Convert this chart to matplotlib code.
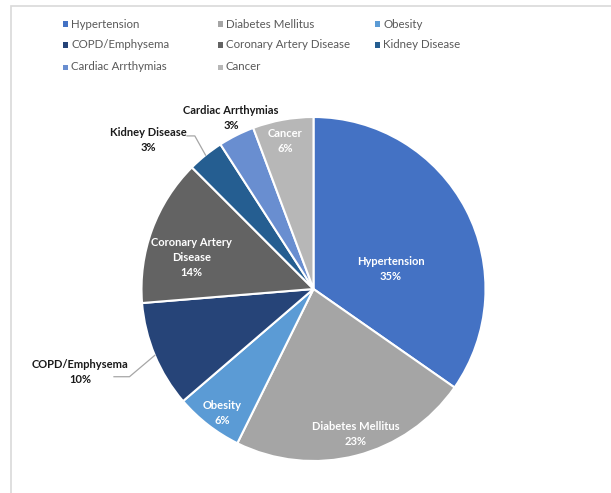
import matplotlib
matplotlib.use("Agg")
import matplotlib.pyplot as plt
from matplotlib.patches import Rectangle
import numpy as np

categories = ["Hypertension", "Diabetes Mellitus", "Obesity", "COPD/Emphysema",
              "Coronary Artery Disease", "Kidney Disease", "Cardiac Arrthymias", "Cancer"]
values = [34.7, 22.6, 6.4, 10.0, 13.8, 3.4, 3.4, 5.7]
colors = ["#4472C4", "#A5A5A5", "#5B9BD5", "#264478", "#636363", "#255E91", "#698ED0", "#B7B7B7"]
label_text = ["Hypertension", "Diabetes Mellitus", "Obesity", "COPD/Emphysema",
              "Coronary Artery\nDisease", "Kidney Disease", "Cardiac Arrthymias", "Cancer"]

# label placement (data coords of pie, radius 1) and whether inside
label_pos = [(0.45, 0.117), (0.246, -0.842), (-0.532, -0.719), (-1.357, -0.485),
             (-0.708, 0.181), (-0.959, 0.865), (-0.48, 0.994), (-0.164, 0.860)]
inside = [True, True, True, False, True, False, False, True]

W, H = 611, 493
fig = plt.figure(figsize=(W / 100, H / 100), dpi=100)
plt.rcParams['font.family'] = ['Lato', 'DejaVu Sans']

# chart border
fig.patches.append(Rectangle((11 / W, -0.1), 1.2, (H - 6) / H + 0.1, transform=fig.transFigure,
                             fill=False, edgecolor="#D9D9D9", linewidth=1.2))

cx, cy, R = 313.5, H - 289, 172
ax = fig.add_axes([(cx - R) / W, (cy - R) / H, 2 * R / W, 2 * R / H])

wedges, _ = ax.pie(values, colors=colors, startangle=90, counterclock=False, radius=1,
                   wedgeprops=dict(edgecolor="white", linewidth=1.5))
ax.set_xlim(-1, 1)
ax.set_ylim(-1, 1)
ax.set_aspect("auto")
ax.axis("off")

total = sum(values)
cum = 0
for i, v in enumerate(values):
    pct = f"{round(v / total * 100):.0f}%"
    mid = (cum + v / 2) / total * 360
    cum += v
    x, y = label_pos[i]
    col = "white" if inside[i] else "#1A1A1A"
    ax.text(x, y, f"{label_text[i]}\n{pct}", ha="center", va="center", fontsize=8,
            fontweight="bold", color=col, linespacing=1.45)
    if not inside[i] and i in (3, 5):
        ang = np.deg2rad(90 - mid)
        ex, ey = np.cos(ang), np.sin(ang)
        if i == 3:
            sx, sy = -1.16, -0.510
            kx = -1.07
        else:
            sx, sy = -0.735, 0.89
            kx = -0.69
        ax.plot([sx, kx, ex], [sy, sy, ey], color="#A6A6A6", linewidth=0.9, clip_on=False)

# legend (row-major, 3 columns)
col_x = [63, 218, 375]
row_y = [24, 45, 67]
for i, (name, c) in enumerate(zip(categories, colors)):
    r, k = divmod(i, 3)
    mx, my = col_x[k], row_y[r]
    fig.patches.append(Rectangle((mx / W, (H - my - 2.5) / H), 5 / W, 5 / H,
                                 transform=fig.transFigure, facecolor=c, edgecolor="none"))
    fig.text((mx + 8) / W, (H - my) / H, name, ha="left", va="center", fontsize=8.3,
             color="#595959")

fig.savefig("out.png", dpi=100)
